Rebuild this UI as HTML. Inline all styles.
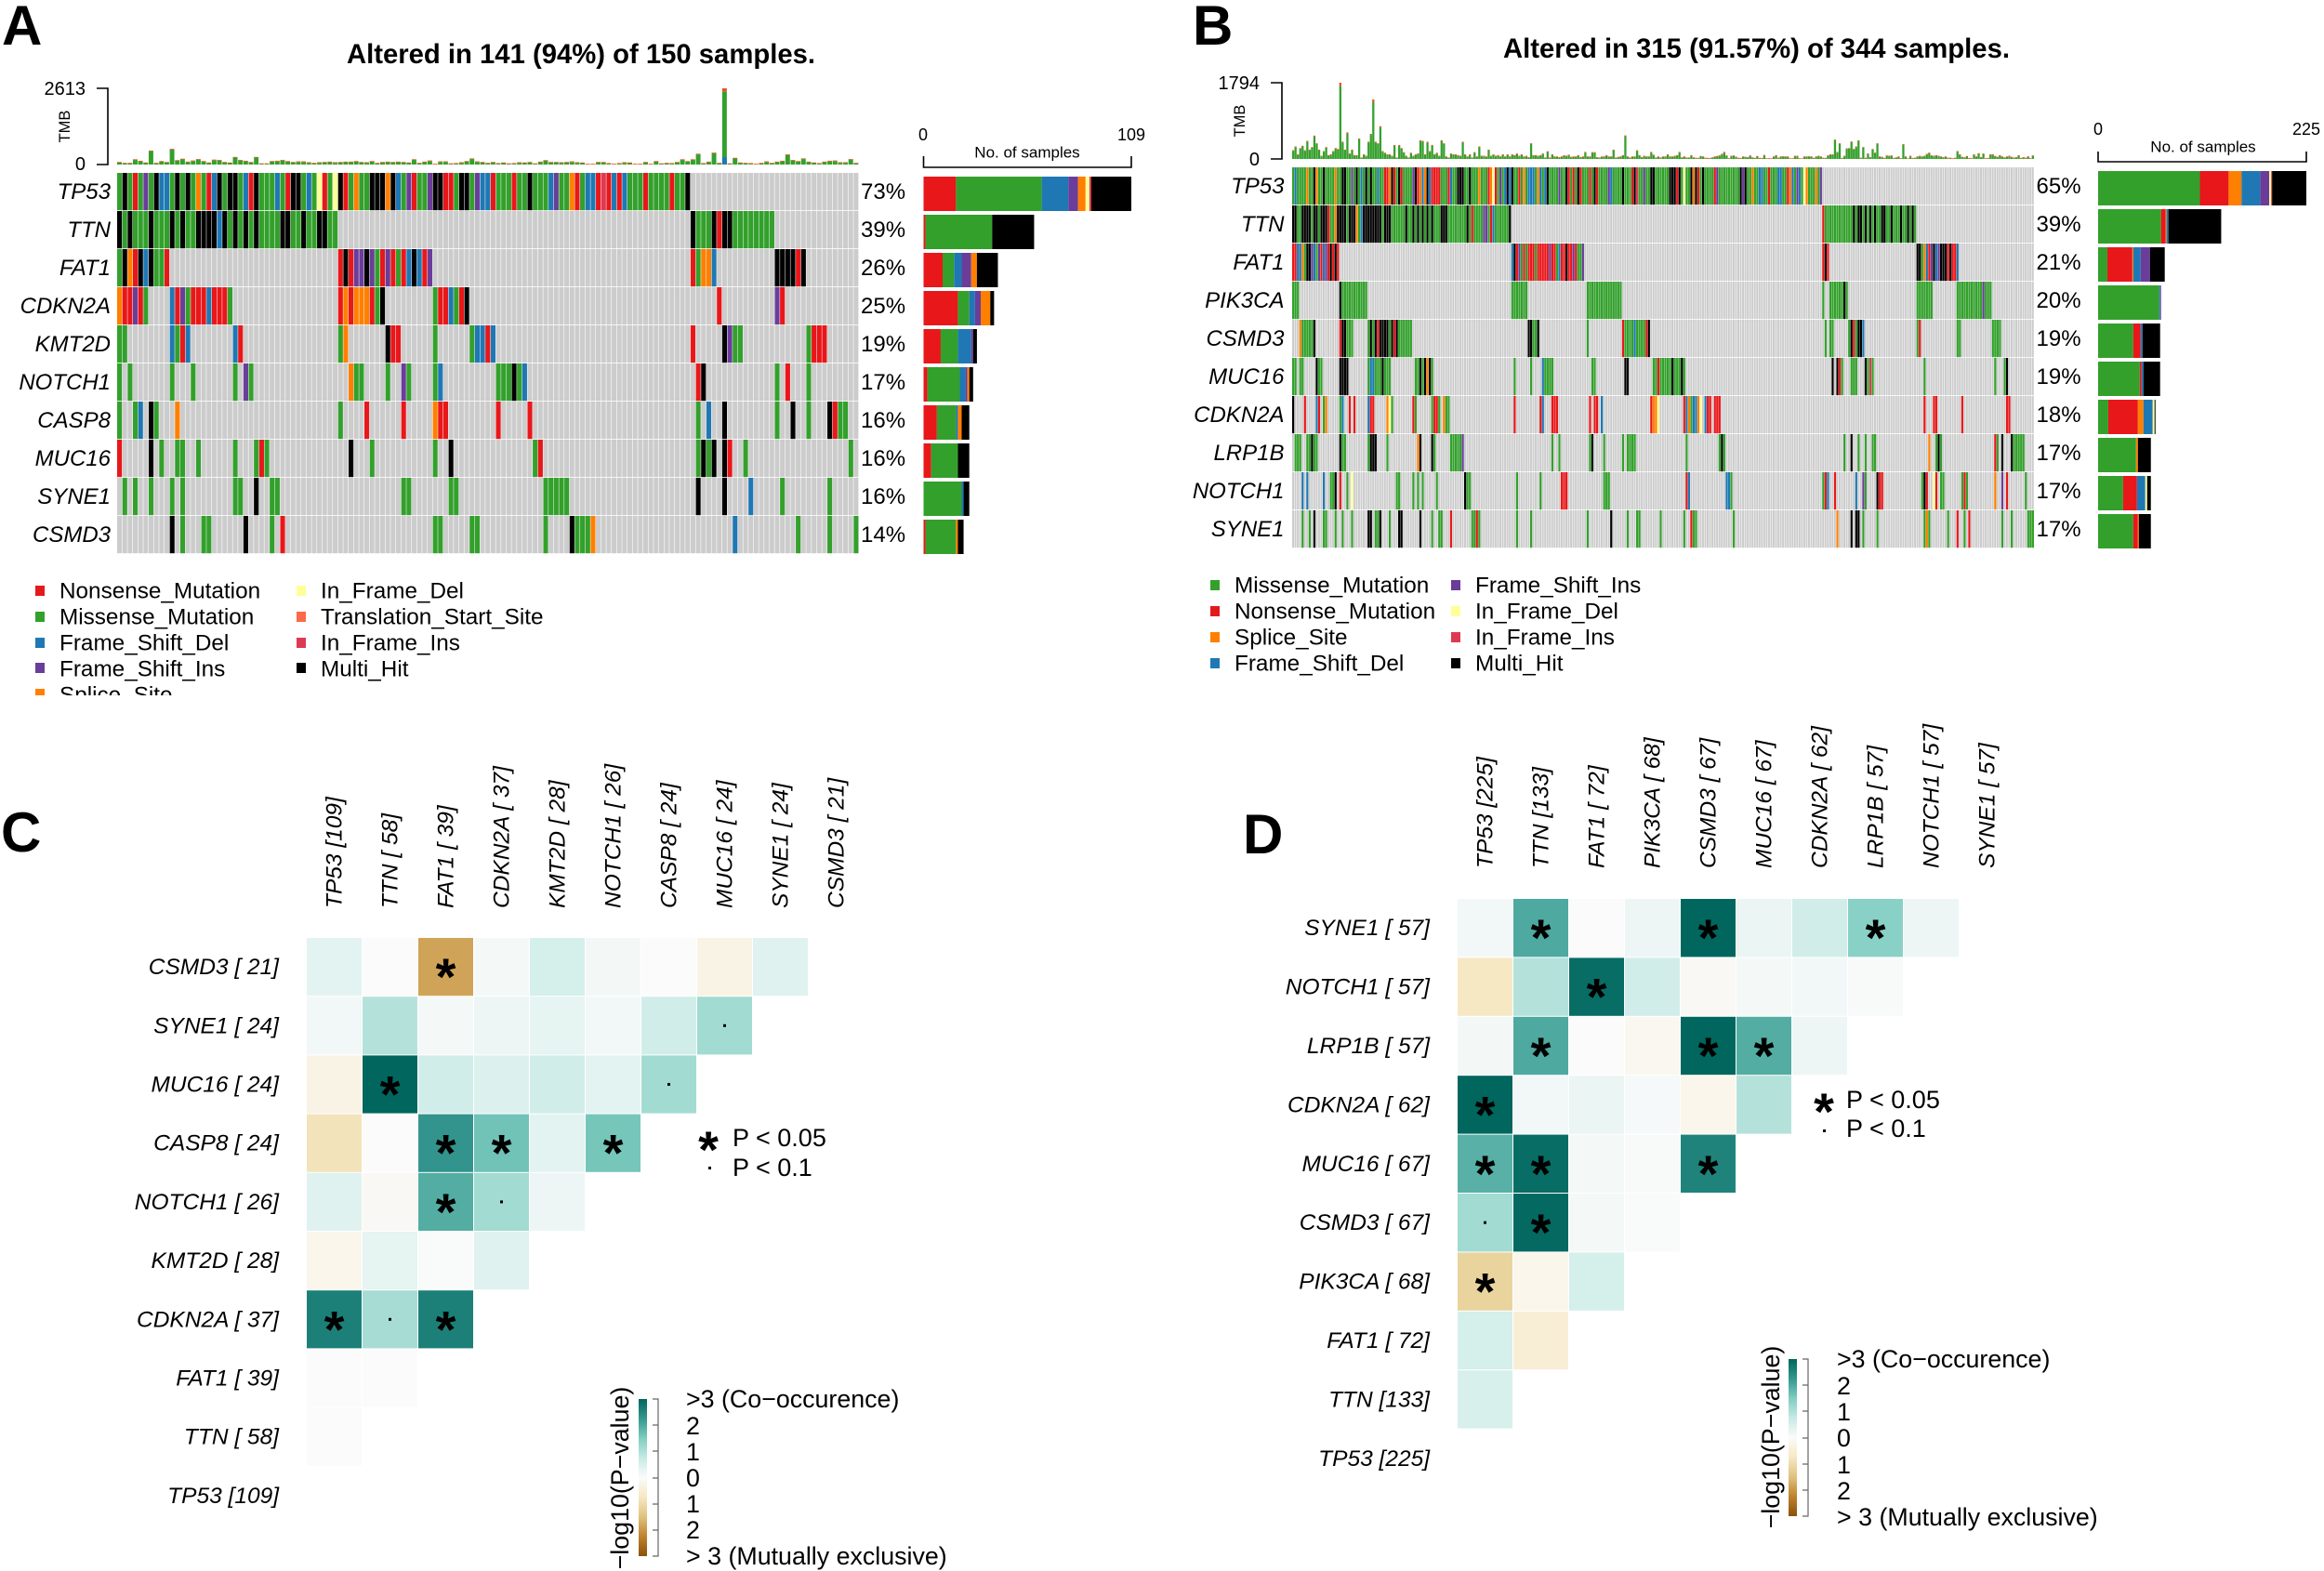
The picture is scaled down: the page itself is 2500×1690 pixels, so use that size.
<!DOCTYPE html>
<html lang="en">
<head>
<meta charset="utf-8">
<title>Oncoplots and somatic interaction heatmaps</title>
<style>
html,body{margin:0;padding:0;background:#fff}
svg{display:block}
text{font-family:"Liberation Sans",sans-serif;fill:#000}
</style>
</head>
<body>
<svg id="fig" xmlns="http://www.w3.org/2000/svg" width="2500" height="1690" viewBox="0 0 2500 1690">
<defs>
<linearGradient id="heatGrad" x1="0" y1="0" x2="0" y2="1">
<stop offset="0" stop-color="#01665E"/><stop offset=".125" stop-color="#35978F"/><stop offset=".25" stop-color="#80CDC1"/><stop offset=".375" stop-color="#C7EAE5"/><stop offset=".5" stop-color="#FBFBFB"/><stop offset=".625" stop-color="#F6E8C3"/><stop offset=".75" stop-color="#DFC27D"/><stop offset=".875" stop-color="#BF812D"/><stop offset="1" stop-color="#8C510A"/>
</linearGradient>
<clipPath id="legendClip"><rect x="0" y="600" width="600" height="148"/></clipPath>
</defs>
<rect x="0" y="0" width="2500" height="1690" fill="#fff"/>

<text x="2" y="48" font-size="60" font-weight="bold">A</text>
<text x="1283" y="48" font-size="60" font-weight="bold">B</text>
<text x="1" y="916" font-size="60" font-weight="bold">C</text>
<text x="1337" y="918" font-size="60" font-weight="bold">D</text>

<text x="373" y="68" font-size="30" font-weight="bold" textLength="504" lengthAdjust="spacingAndGlyphs">Altered in 141 (94%) of 150 samples.</text>
<text x="1617" y="62" font-size="30" font-weight="bold" textLength="545" lengthAdjust="spacingAndGlyphs">Altered in 315 (91.57%) of 344 samples.</text>

<g font-size="24.3" clip-path="url(#legendClip)">
<g><rect x="38" y="630" width="10" height="11" fill="#E31A1C"/><text x="64" y="636" dominant-baseline="central">Nonsense_Mutation</text></g>
<g><rect x="38" y="658" width="10" height="11" fill="#33A02C"/><text x="64" y="664" dominant-baseline="central">Missense_Mutation</text></g>
<g><rect x="38" y="686" width="10" height="11" fill="#1F78B4"/><text x="64" y="692" dominant-baseline="central">Frame_Shift_Del</text></g>
<g><rect x="38" y="713" width="10" height="11" fill="#6A3D9A"/><text x="64" y="720" dominant-baseline="central">Frame_Shift_Ins</text></g>
<g><rect x="38" y="741" width="10" height="11" fill="#FF7F00"/><text x="64" y="748" dominant-baseline="central">Splice_Site</text></g>
<g><rect x="319" y="630" width="10" height="11" fill="#FFFF99"/><text x="345" y="636" dominant-baseline="central">In_Frame_Del</text></g>
<g><rect x="319" y="658" width="10" height="11" fill="#FB6A4A"/><text x="345" y="664" dominant-baseline="central">Translation_Start_Site</text></g>
<g><rect x="319" y="686" width="10" height="11" fill="#DD3A52"/><text x="345" y="692" dominant-baseline="central">In_Frame_Ins</text></g>
<g><rect x="319" y="713" width="10" height="11" fill="#000"/><text x="345" y="720" dominant-baseline="central">Multi_Hit</text></g>
</g>

<g font-size="24.3">
<g><rect x="1302" y="624" width="10" height="11" fill="#33A02C"/><text x="1328" y="630" dominant-baseline="central">Missense_Mutation</text></g>
<g><rect x="1302" y="652" width="10" height="11" fill="#E31A1C"/><text x="1328" y="658" dominant-baseline="central">Nonsense_Mutation</text></g>
<g><rect x="1302" y="680" width="10" height="11" fill="#FF7F00"/><text x="1328" y="686" dominant-baseline="central">Splice_Site</text></g>
<g><rect x="1302" y="708" width="10" height="11" fill="#1F78B4"/><text x="1328" y="714" dominant-baseline="central">Frame_Shift_Del</text></g>
<g><rect x="1561" y="624" width="10" height="11" fill="#6A3D9A"/><text x="1587" y="630" dominant-baseline="central">Frame_Shift_Ins</text></g>
<g><rect x="1561" y="652" width="10" height="11" fill="#FFFF99"/><text x="1587" y="658" dominant-baseline="central">In_Frame_Del</text></g>
<g><rect x="1561" y="680" width="10" height="11" fill="#DD3A52"/><text x="1587" y="686" dominant-baseline="central">In_Frame_Ins</text></g>
<g><rect x="1561" y="708" width="10" height="11" fill="#000"/><text x="1587" y="714" dominant-baseline="central">Multi_Hit</text></g>
</g>

<g>
<path d="M104 95H116V177H104" fill="none" stroke="#000" stroke-width="1.6"/>
<text x="92" y="96" font-size="20" text-anchor="end" dominant-baseline="central">2613</text>
<text x="92" y="177" font-size="20" text-anchor="end" dominant-baseline="central">0</text>
<text transform="translate(70 136) rotate(-90)" font-size="16.5" text-anchor="middle" dominant-baseline="central">TMB</text>
</g>
<g>
<path d="M1367 89H1379V171H1367" fill="none" stroke="#000" stroke-width="1.6"/>
<text x="1355" y="90" font-size="20" text-anchor="end" dominant-baseline="central">1794</text>
<text x="1355" y="172" font-size="20" text-anchor="end" dominant-baseline="central">0</text>
<text transform="translate(1334 130) rotate(-90)" font-size="16.5" text-anchor="middle" dominant-baseline="central">TMB</text>
</g>

<g>
<path d="M993.500 168V180H1217V168" fill="none" stroke="#000" stroke-width="1.6"/>
<text x="993" y="145" font-size="18" text-anchor="middle" dominant-baseline="central">0</text>
<text x="1217" y="145" font-size="18" text-anchor="middle" dominant-baseline="central">109</text>
<text x="1105" y="164" font-size="17" text-anchor="middle" dominant-baseline="central">No. of samples</text>
</g>
<g>
<path d="M2257 163V174H2481V163" fill="none" stroke="#000" stroke-width="1.6"/>
<text x="2257" y="139" font-size="18" text-anchor="middle" dominant-baseline="central">0</text>
<text x="2481" y="139" font-size="18" text-anchor="middle" dominant-baseline="central">225</text>
<text x="2370" y="158" font-size="17" text-anchor="middle" dominant-baseline="central">No. of samples</text>
</g>

<g id="tmbA"></g>
<g id="tmbB"></g>
<g id="matA"></g>
<g id="matB"></g>
<g id="barA"></g>
<g id="barB"></g>
<g id="heatC"></g>
<g id="heatD"></g>

<g font-size="27">
<text x="762" y="1256" font-size="56" font-weight="bold" text-anchor="middle">*</text>
<text x="788" y="1224" dominant-baseline="central">P &lt; 0.05</text>
<rect x="762" y="1255" width="3" height="3" fill="#000"/>
<text x="788" y="1256" dominant-baseline="central">P &lt; 0.1</text>
</g>
<g font-size="27">
<text x="1962" y="1215" font-size="56" font-weight="bold" text-anchor="middle">*</text>
<text x="1986" y="1183" dominant-baseline="central">P &lt; 0.05</text>
<rect x="1961" y="1215" width="3" height="3" fill="#000"/>
<text x="1986" y="1214" dominant-baseline="central">P &lt; 0.1</text>
</g>

<g font-size="26.8">
<text transform="translate(667 1590) rotate(-90)" text-anchor="middle" dominant-baseline="central">−log10(P−value)</text>
<rect x="687" y="1505" width="9" height="169" fill="url(#heatGrad)"/>
<path d="M702 1505H708V1674H702M702 1533H708M702 1561H708M702 1590H708M702 1618H708M702 1646H708" fill="none" stroke="#666" stroke-width="1.2"/>
<text x="738" y="1505" dominant-baseline="central">&gt;3 (Co−occurence)</text>
<text x="738" y="1534" dominant-baseline="central">2</text>
<text x="738" y="1562" dominant-baseline="central">1</text>
<text x="738" y="1590" dominant-baseline="central">0</text>
<text x="738" y="1618" dominant-baseline="central">1</text>
<text x="738" y="1646" dominant-baseline="central">2</text>
<text x="738" y="1674" dominant-baseline="central">&gt; 3 (Mutually exclusive)</text>
</g>
<g font-size="26.8">
<text transform="translate(1905 1546) rotate(-90)" text-anchor="middle" dominant-baseline="central">−log10(P−value)</text>
<rect x="1924" y="1462" width="9" height="169" fill="url(#heatGrad)"/>
<path d="M1939 1462H1945V1631H1939M1939 1490H1945M1939 1518H1945M1939 1547H1945M1939 1575H1945M1939 1603H1945" fill="none" stroke="#666" stroke-width="1.2"/>
<text x="1976" y="1462" dominant-baseline="central">&gt;3 (Co−occurence)</text>
<text x="1976" y="1491" dominant-baseline="central">2</text>
<text x="1976" y="1519" dominant-baseline="central">1</text>
<text x="1976" y="1547" dominant-baseline="central">0</text>
<text x="1976" y="1576" dominant-baseline="central">1</text>
<text x="1976" y="1604" dominant-baseline="central">2</text>
<text x="1976" y="1632" dominant-baseline="central">&gt; 3 (Mutually exclusive)</text>
</g>
</svg>

<script>
// ---------- Data: panel A ----------
const genesA = ["TP53","TTN","FAT1","CDKN2A","KMT2D","NOTCH1","CASP8","MUC16","SYNE1","CSMD3"];
const pctA = ["73%","39%","26%","25%","19%","17%","16%","16%","16%","14%"];
// Mutation type per sample, run-length coded: letter + optional count, "_" = not mutated
const matrixA = [
"GKGRGPGKBBGKGKGOGRBKGKKGBRKGGGBGRKKGBGYRGYKRGOGGKKKOKBGPRGGPKKRRGKKGPBBRGGGRGGKGGGBPGGORGBBRIRBRBGGGRGGGGRGGK",
"KGKGGGKGGGKGKGGKKKKBKGKGKGKGGGGKKGGKGGKKGG_67KGGGKRKKG8",
"GKORKBKGGR_32RKRPPKPGRPRGRBKBRP_49RGOOB_11K4RK",
"ORRPRG_4BRPGRRRBRRRG_20ROROOORGK_9GRRBGRK_47R_10PR",
"GG_8BGRB_8BR_18GO_7KRR_6G_6GBBRB_37R_5KPGG_12GRRR",
"G_G_7G_3G_7G_PG_18OGG_4G_2PG_4GB_10GGGKGB_32RK_13G_R_3G",
"G_2GB_KG_3O_30G_4R_6R_5ORR_9R_5R_31G_B_2K_9G_2K_2G_3KRGG",
"R_5K_G_2GG_2G_6G_3GRG_15K_3G_11G_2K_15GR_29GKGK_KR_2G_19G",
"_G_G_2G_3G_G_9GG_2K_2GG_23GG_7GG_16G5_24K_4K_4B_5G_8G",
"_10K_G_3GG_6K_4G_R_28GG_5GG_12G_4KGGGO_26B_11G_5G_4G"
];
const tmbA = [
90,60,60,180,130,70,480,60,120,90,
540,150,200,100,140,190,120,70,170,160,
90,70,260,160,130,90,260,40,40,120,
130,160,120,90,110,110,80,60,80,90,
100,80,90,100,100,120,90,80,120,60,
90,100,90,100,90,70,180,60,100,140,
30,110,110,40,50,80,120,210,110,90,
60,90,50,70,40,50,80,70,90,40,
100,150,90,90,80,90,110,80,70,30,
30,90,90,50,30,50,80,70,30,30,
90,30,120,40,60,50,90,180,120,180,
370,50,100,410,60,2613,40,230,70,60,
50,30,60,110,60,100,130,350,160,120,
210,100,70,50,100,130,140,80,80,190,
60];
const tmbAFrameshift = {115:250};
const barOrderA = ["R","G","B","P","O","Y","I","K"];
const barCountsA = [
[17,45,14,5,4,2,1,21],
[1,35,0,0,0,0,0,22],
[10,6,4,5,3,0,0,11],
[18,6,3,3,5,0,0,2],
[9,9,7,1,0,0,0,2],
[2,17,3,1,1,0,0,2],
[7,10,1,0,2,0,0,4],
[4,14,0,0,0,0,0,6],
[0,20,1,0,0,0,0,3],
[1,16,0,0,1,0,0,3]
];

// ---------- Data: panel B ----------
const genesB = ["TP53","TTN","FAT1","PIK3CA","CSMD3","MUC16","CDKN2A","LRP1B","NOTCH1","SYNE1"];
const pctB = ["65%","39%","21%","20%","19%","19%","18%","17%","17%","17%"];
const matrixB = [
"GBG4OG2KOG2KG4OG2K2G2PGKGBGKGKG2BG2R2OKRGKRG4PKROBOKBR4G3RBG2K3G2KG3OG3ROYRGPGBKBKG2RGOGB3GOBGBKG4PG2KRGRGKRG3RGKRG4PBG4KG3RKIG2PG2K2G6K3RKGYG2KOKRGKG4RPG9KPKG2OG2B2G2RG3B2G2ROBGPBGYOG3OGP",
"K2G2K4GK2GK3RG2OK4GK3OGBK8GK3G6KG2KGKGKGKGKG3K3G8KGRG4P2GRBG6K_132RG12KGK2GKGKGKG2K2G2KG3KG2KGKG",
"R2B2OGK2PBGPRBPRKRKR_73BKRPGRGR3GR5PR2GBR2KR2PRGGP_101RKR_37K2GOBRPKBPK3RKR2B",
"G3_17KG11_61G7_25G15_85G_2G6KG_29G7_10G11PG3",
"_3OG5K_10RK2G3_6GKGKRK4GKRKG6_49K2G2K_20G_14RG4BG4RK_74G_G2_6GKRGK2B_22GR_15G2_13G4",
"G2_G2_5KG2_7K4_8GB2G3KG3_10G2KGKOKG_34G_6G_4BG4_16G2_12K2_10G2RG5KG3KG_62K_KRG_3G3_3KGIG_21G_29G_3GK",
"K_4R_4BR_GO_5GB_2R_R_5BR2_5OYG_8RG_6GR2G_OG2_27R_10RB_3R3_13R_RR_B_20ROOY_10RBOGB2OY_BR2_R3_86R_3R2_10R_18R2",
"_G3_2G2KG2_9KG2_9GK3_4G_12OK_4KG_6G5P_37G_2G_12GK_4G_7G_G4_21G_13GKG_50G_2K_2G_2G_2G2_22O_2GKG_22RG_K_3KG5",
"_4B_B_6B_2G2K_R_2G_Y_18G2_5G_G_G_5G_11KGG_19G_9G_8R3_15G3_32RB_15B2G_38GRB_2R_8B_2PG_4KR2_16GKR_2YR_GG_7GRG_11O_2P_R_7G",
"_4G_2G_K_3G2_3G_2G_3G_6K2_G2K_3G_3K2_7K_4G_2G2_3R_8G2RG_15G_5G_23G_9K_6G_3G2_8G_9G_2RG2_15G_43O_5K_KK_G_5G_19GOG_7G_3R_2G_R_13G_3G_6G3"
];
const tmbB = [
205,295,110,255,310,205,425,220,280,550,
370,220,75,185,280,90,110,185,255,235,
1794,405,220,625,130,220,90,90,480,35,
110,75,405,590,1400,405,370,770,185,145,
110,110,75,330,35,330,255,160,75,35,
145,75,110,130,440,425,110,405,185,330,
110,145,75,440,370,60,35,130,110,110,
90,75,405,110,60,110,35,160,60,295,
75,75,60,220,75,110,75,90,60,110,
60,110,60,110,90,130,75,110,60,75,
45,370,90,90,75,90,130,35,180,35,
110,60,60,45,60,90,75,100,50,60,
60,90,45,60,165,60,60,160,160,45,
35,60,60,90,60,60,220,35,50,60,
90,555,60,35,60,60,205,90,45,75,
60,60,165,100,35,60,35,60,60,110,
60,60,75,90,165,40,60,35,35,90,
40,30,25,70,60,30,25,25,40,60,
70,85,120,165,85,20,75,85,55,30,
25,60,50,45,85,40,25,70,25,25,
95,20,20,15,60,90,30,60,65,60,
60,15,20,75,75,20,15,60,60,65,
60,25,60,75,60,30,25,85,110,110,
455,165,370,25,75,250,255,410,235,295,
440,30,280,30,130,45,235,150,370,60,
50,25,85,75,85,25,40,60,20,350,
60,15,75,25,30,60,75,60,75,120,
150,85,75,90,75,60,45,60,30,30,
20,30,185,110,50,40,70,25,20,110,
60,135,45,130,20,25,110,110,70,50,
90,60,40,60,75,50,35,45,90,25,
45,30,65,20,85];
const tmbBFrameshift = {};
const barOrderB = ["G","R","O","B","P","Y","I","K"];
const barCountsB = [
[110,31,14,20,10,2,1,37],
[68,5,1,2,0,0,0,57],
[10,27,1,8,10,0,0,16],
[66,0,0,1,1,0,0,0],
[38,8,0,2,0,0,0,19],
[45,2,0,2,0,0,0,18],
[11,32,6,10,0,2,0,1],
[41,0,2,0,0,0,0,14],
[27,15,0,9,0,2,0,4],
[38,5,1,0,0,0,0,13]
];

// ---------- Data: heatmaps (signed -log10 P; rows top to bottom) ----------
const heatCCols = ["TP53 [109]","TTN [ 58]","FAT1 [ 39]","CDKN2A [ 37]","KMT2D [ 28]","NOTCH1 [ 26]","CASP8 [ 24]","MUC16 [ 24]","SYNE1 [ 24]","CSMD3 [ 21]"];
const heatCRows = ["CSMD3 [ 21]","SYNE1 [ 24]","MUC16 [ 24]","CASP8 [ 24]","NOTCH1 [ 26]","KMT2D [ 28]","CDKN2A [ 37]","FAT1 [ 39]","TTN [ 58]","TP53 [109]"];
const heatCVals = [
[.35,.02,-1.85,.1,.55,.12,.02,-.3,.4],
[.15,.95,.1,.2,.3,.15,.6,1.15],
[-.3,3,.6,.45,.6,.35,1.15],
[-.85,.02,2.3,1.65,.35,1.6],
[.4,-.1,1.95,1.15,.2],
[-.2,.3,.03,.4],
[2.6,1.1,2.6],
[.02,.02],
[.02],
[]
];
const heatDCols = ["TP53 [225]","TTN [133]","FAT1 [ 72]","PIK3CA [ 68]","CSMD3 [ 67]","MUC16 [ 67]","CDKN2A [ 62]","LRP1B [ 57]","NOTCH1 [ 57]","SYNE1 [ 57]"];
const heatDRows = ["SYNE1 [ 57]","NOTCH1 [ 57]","LRP1B [ 57]","CDKN2A [ 62]","MUC16 [ 67]","CSMD3 [ 67]","PIK3CA [ 68]","FAT1 [ 72]","TTN [133]","TP53 [225]"];
const heatDVals = [
[.15,2,.02,.2,3,.25,.6,1.4,.2],
[-.75,.95,2.9,.6,-.1,.1,.15,.06],
[.12,2,.02,-.15,3,1.95,.2],
[3,.15,.25,.08,-.2,.95],
[1.9,2.9,.1,.05,2.55],
[1.15,2.95,.1,.03],
[-1.15,-.2,.55],
[.55,-.5],
[.5],
[]
];
// Significance marks, [row, column, mark]
const sigC = [[0,2,"*"],[1,7,"."],[2,1,"*"],[2,6,"."],[3,2,"*"],[3,3,"*"],[3,5,"*"],[4,2,"*"],[4,3,"."],[6,0,"*"],[6,1,"."],[6,2,"*"]];
const sigD = [[0,1,"*"],[0,4,"*"],[0,7,"*"],[1,2,"*"],[2,1,"*"],[2,4,"*"],[2,5,"*"],[3,0,"*"],[4,0,"*"],[4,1,"*"],[4,4,"*"],[5,0,"."],[5,1,"*"],[6,0,"*"]];

// ---------- Drawing ----------
const NS = "http://www.w3.org/2000/svg";
const typeColors = {G:"#33A02C",R:"#E8171A",B:"#1F78B4",P:"#6A3D9A",O:"#FF7F00",Y:"#FFFF99",I:"#DD3A52",K:"#000000"};
const stops = ["#8C510A","#BF812D","#DFC27D","#F6E8C3","#FBFBFB","#C7EAE5","#80CDC1","#35978F","#01665E"];

function mk(parent, tag, attrs, txt){
  const el = document.createElementNS(NS, tag);
  for (const k in attrs) el.setAttribute(k, attrs[k]);
  if (txt !== undefined) el.textContent = txt;
  parent.appendChild(el);
  return el;
}
function parseRow(s){
  const out = [];
  s.replace(/([GKRBPOYI_])(\d*)/g, function(m, t, n){
    const c = n === "" ? 1 : parseInt(n, 10);
    for (let i = 0; i < c; i++) out.push(t);
    return m;
  });
  return out;
}
function heatColor(v){
  const t = Math.max(0, Math.min(8, (v + 3) / 6 * 8));
  const i = Math.min(7, Math.floor(t));
  const f = t - i;
  const a = stops[i], b = stops[i + 1];
  let out = "rgb(";
  for (let c = 0; c < 3; c++){
    const p = parseInt(a.substr(1 + c * 2, 2), 16), q = parseInt(b.substr(1 + c * 2, 2), 16);
    out += Math.round(p + (q - p) * f) + (c < 2 ? "," : ")");
  }
  return out;
}

function drawMatrix(id, rows, genes, pcts, nSamples, xStart, xEnd, y0, labelX, pctX, sepGray, sepColor){
  const g = document.getElementById(id);
  const frag = document.createDocumentFragment();
  const cw = (xEnd - xStart) / nSamples;
  rows.forEach(function(str, r){
    const cells = parseRow(str);
    const y = y0 + r * 41;
    for (let i = 0; i < nSamples; i++){
      const t = cells[i];
      const mutated = t && t !== "_";
      const fill = mutated ? typeColors[t] : "#CCCCCC";
      const sep = mutated ? sepColor : sepGray;
      const cell = mk(frag, "rect", {x:(xStart + i * cw).toFixed(2), y:y, width:(cw - sep).toFixed(2), height:40.2, fill:fill});
      
      
    }
    const lab = mk(frag, "text", {x:labelX, y:y + 20.5, "font-size":24, "font-style":"italic", "text-anchor":"end", "dominant-baseline":"central"}, genes[r]);
    
    
    const pct = mk(frag, "text", {x:pctX, y:y + 20.5, "font-size":24, "dominant-baseline":"central"}, pcts[r]);
    
    
  });
  g.appendChild(frag);
}

function drawTmb(id, vals, maxV, x0, cw, yBase, yTop, sep, lowShare){
  const g = document.getElementById(id);
  const sy = function(v){ return (yBase - yTop) * v / maxV; };
  vals.forEach(function(v, i){
    const h = sy(v);
    const top = Math.max(0.7, h * 0.04);
    const x = x0 + i * cw;
    const body = mk(g, "rect", {x:x.toFixed(2), y:(yBase - h + top).toFixed(2), width:(cw - sep).toFixed(2), height:Math.max(0, h - top).toFixed(2), fill:"#33A02C"});
    
    
    const cap = mk(g, "rect", {x:x.toFixed(2), y:(yBase - h).toFixed(2), width:(cw - sep).toFixed(2), height:top.toFixed(2), fill:"#F0501A"});
    
    
    if (lowShare[i]){
      const low = mk(g, "rect", {x:x.toFixed(2), y:(yBase - sy(lowShare[i])).toFixed(2), width:(cw - sep).toFixed(2), height:sy(lowShare[i]).toFixed(2), fill:"#1F78B4"});
      
      
    }
  });
}

function drawBars(id, order, counts, x0, y0, scale){
  const g = document.getElementById(id);
  counts.forEach(function(row, r){
    let x = x0;
    row.forEach(function(c, k){
      if (!c) return;
      const w = c * scale;
      const s = mk(g, "rect", {x:x.toFixed(2), y:y0 + r * 41, width:w.toFixed(2), height:37, fill:typeColors[order[k]]});
      
      
      x += w;
    });
  });
}

function drawHeat(id, cols, rows, vals, sig, x0, y0, dx, dy, labelRight, colBottom){
  const g = document.getElementById(id);
  vals.forEach(function(row, r){
    row.forEach(function(v, c){
      const cell = mk(g, "rect", {x:(x0 + c * dx).toFixed(1), y:(y0 + r * dy).toFixed(1), width:(dx - 1).toFixed(1), height:(dy - 1).toFixed(1), fill:heatColor(v)});
      
      
    });
  });
  sig.forEach(function(m){
    const cx = x0 + m[1] * dx + (dx - 1) / 2, cy = y0 + m[0] * dy + (dy - 1) / 2;
    if (m[2] === "*"){
      const star = mk(g, "text", {x:cx, y:cy + 30, "font-size":56, "font-weight":"bold", "text-anchor":"middle"}, "*");
      
      
    } else {
      const dot = mk(g, "rect", {x:cx - 1.5, y:cy - 1.5, width:3, height:3, fill:"#000"});
      
      
    }
  });
  rows.forEach(function(t, r){
    const lab = mk(g, "text", {x:labelRight, y:(y0 + r * dy + dy / 2).toFixed(1), "font-size":24.5, "font-style":"italic", "text-anchor":"end", "dominant-baseline":"central"}, t);
    
    
  });
  cols.forEach(function(t, c){
    const cx = x0 + c * dx + dx / 2;
    const lab = mk(g, "text", {transform:"translate(" + cx.toFixed(1) + " " + colBottom + ") rotate(-90)", "font-size":24.5, "font-style":"italic", "dominant-baseline":"central"}, t);
    
    
  });
}

drawTmb("tmbA", tmbA, 2613, 126, 5.66, 177, 95, 0.7, tmbAFrameshift);
drawTmb("tmbB", tmbB, 1794, 1390, 2.534, 171, 89, 0.25, tmbBFrameshift);
drawMatrix("matA", matrixA, genesA, pctA, 141, 126, 924, 186, 119, 926, 0.6, 0.5);
drawMatrix("matB", matrixB, genesB, pctB, 315, 1390, 2188.3, 180, 1381.5, 2190.5, 0.55, 0.3);
drawBars("barA", barOrderA, barCountsA, 993.5, 190, 223.5 / 109);
drawBars("barB", barOrderB, barCountsB, 2257, 184, 224 / 225);
drawHeat("heatC", heatCCols, heatCRows, heatCVals, sigC, 330, 1009, 60, 63.2, 300, 977);
drawHeat("heatD", heatDCols, heatDRows, heatDVals, sigD, 1568, 967, 60, 63.4, 1538, 934);
</script>
</body>
</html>
